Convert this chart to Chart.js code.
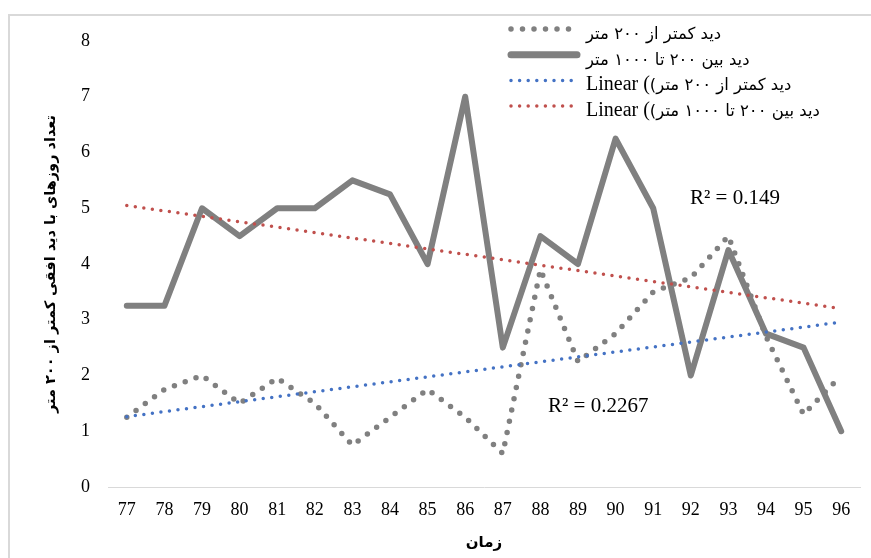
<!DOCTYPE html>
<html>
<head>
<meta charset="utf-8">
<script src="https://cdn.jsdelivr.net/npm/chart.js@4.4.0/dist/chart.umd.min.js"></script>
<style>
  html, body { margin: 0; padding: 0; background: #fff; overflow: hidden; }
  #wrap { position: relative; width: 871px; height: 558px; overflow: hidden; }
  #frame { position: absolute; left: 8px; top: 14px; width: 900px; height: 600px; border-left: 2px solid #d9d9d9; border-top: 2px solid #d9d9d9; }
  canvas { position: absolute; left: 0; top: 0; }
</style>
</head>
<body>
<div id="wrap">
  <div id="frame"></div>
  <canvas id="chart" width="871" height="558"></canvas>
</div>
<script>
// years (category axis)
const years = ['77', '78', '79', '80', '81', '82', '83', '84', '85', '86',
               '87', '88', '89', '90', '91', '92', '93', '94', '95', '96']

// days with visibility below 200 m
const lessThan200 = [1.25, 1.75, 2, 1.5, 1.95, 1.5, 0.75, 1.25, 1.75, 1.25,
                     0.6, 3.9, 2.25, 2.75, 3.5, 3.75, 4.5, 2.7, 1.3, 2]

// days with visibility between 200 and 1000 m
const between200and1000 = [3.25, 3.25, 5, 4.5, 5, 5, 5.5, 5.25, 4, 7,
                           2.5, 4.5, 4, 6.25, 5, 2, 4.25, 2.75, 2.5, 1]

const seriesNames = [
  'دید کمتر از ۲۰۰ متر',
  'دید بین ۲۰۰ تا ۱۰۰۰ متر',
  'Linear (دید کمتر از ۲۰۰ متر)',
  'Linear (دید بین ۲۰۰ تا ۱۰۰۰ متر)'
]

const rSquaredLabels = ['R² = 0.2267', 'R² = 0.149']

// least squares trend line over the category index
function linearFit(values) {
  const n = values.length
  const mx = (n - 1) / 2
  const my = values.reduce((a, b) => a + b, 0) / n
  let sxy = 0, sxx = 0
  values.forEach((v, i) => {
    sxy += (i - mx) * (v - my)
    sxx += (i - mx) * (i - mx)
  })
  const slope = sxy / sxx
  return values.map((v, i) => my + slope * (i - mx))
}

const serif = "'Liberation Serif', 'DejaVu Sans', serif"
const arabic = "'DejaVu Sans', sans-serif"
const gray = '#808080'
const blue = '#4472C4'
const red = '#C0504D'

// legend + R² annotations drawn on top of the chart
const overlay = {
  id: 'overlay',
  afterDraw(chart) {
    const ctx = chart.ctx
    ctx.save()
    chart.data.datasets.forEach((ds, i) => {
      const y = 29 + i * 25.7
      ctx.beginPath()
      ctx.strokeStyle = ds.borderColor
      ctx.lineWidth = ds.legendWidth || ds.borderWidth
      ctx.lineCap = 'round'
      ctx.setLineDash(ds.borderDash || [])
      ctx.moveTo(511, y)
      ctx.lineTo(577, y)
      ctx.stroke()
      ctx.setLineDash([])

      ctx.fillStyle = '#000'
      ctx.textAlign = 'left'
      ctx.textBaseline = 'alphabetic'
      let name = seriesNames[i]
      let x = 586
      const prefix = 'Linear ('
      if (name.startsWith(prefix)) {
        ctx.direction = 'ltr'
        ctx.font = '20px ' + serif
        ctx.fillText(prefix, x, y + 10)
        x += ctx.measureText(prefix).width
        name = name.slice(prefix.length)
      }
      ctx.direction = 'rtl'
      ctx.font = '16.5px ' + arabic
      ctx.fillText(name, x, y + 10)
      ctx.direction = 'ltr'
    })
    ctx.textAlign = 'left'
    ctx.font = '21px ' + serif
    ctx.fillStyle = '#000'
    ctx.fillText(rSquaredLabels[0], 548, 412)
    ctx.fillText(rSquaredLabels[1], 690, 204)
    ctx.restore()
  }
}

const ctx = document.getElementById('chart').getContext('2d')

new Chart(ctx, {
  type: 'line',
  data: {
    labels: years,
    datasets: [
      {
        label: seriesNames[0],
        data: lessThan200,
        borderColor: gray,
        borderWidth: 5.5,
        borderDash: [0, 11.5],
        borderCapStyle: 'round',
        borderJoinStyle: 'round',
        order: 2
      },
      {
        label: seriesNames[1],
        data: between200and1000,
        borderColor: gray,
        borderWidth: 6,
        legendWidth: 7,
        borderCapStyle: 'round',
        borderJoinStyle: 'round',
        order: 3
      },
      {
        label: seriesNames[2],
        data: linearFit(lessThan200),
        borderColor: blue,
        borderWidth: 3.5,
        borderDash: [0, 8.6],
        borderCapStyle: 'round',
        order: 1
      },
      {
        label: seriesNames[3],
        data: linearFit(between200and1000),
        borderColor: red,
        borderWidth: 3.5,
        borderDash: [0, 8.6],
        borderCapStyle: 'round',
        order: 0
      }
    ]
  },
  options: {
    responsive: false,
    animation: false,
    devicePixelRatio: 1,
    layout: { padding: { top: 41, right: 11, left: 0, bottom: 0 } },
    elements: { point: { radius: 0, hoverRadius: 0 }, line: { tension: 0 } },
    plugins: {
      legend: { display: false },
      tooltip: { enabled: false }
    },
    scales: {
      x: {
        offset: true,
        grid: { display: false, drawTicks: false },
        border: { display: true, color: '#d9d9d9', width: 1 },
        ticks: {
          color: '#000',
          font: { family: serif, size: 18 },
          padding: 12,
          maxRotation: 0,
          autoSkip: false
        },
        title: {
          display: true,
          text: 'زمان',
          color: '#000',
          font: { family: arabic, size: 15, weight: 'bold' },
          padding: { top: 0, bottom: 6 }
        },
        afterFit: (scale) => { scale.height = 71 }
      },
      y: {
        min: 0,
        max: 8,
        grid: { display: false, drawTicks: false },
        border: { display: false },
        ticks: {
          stepSize: 1,
          color: '#000',
          font: { family: serif, size: 18 },
          padding: 18
        },
        title: {
          display: true,
          text: 'تعداد روزهای با دید افقی کمتر از ۲۰۰ متر',
          color: '#000',
          font: { family: arabic, size: 14.5, weight: 'bold' },
          padding: { top: 43, bottom: 0 }
        },
        afterFit: (scale) => { scale.width = 108 }
      }
    }
  },
  plugins: [overlay]
})
</script>
</body>
</html>
